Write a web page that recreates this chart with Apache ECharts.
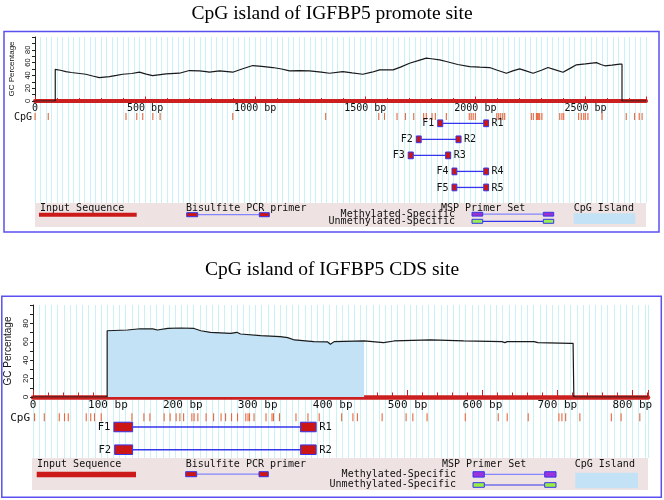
<!DOCTYPE html>
<html><head><meta charset="utf-8">
<script src="https://cdn.jsdelivr.net/npm/echarts@6/dist/echarts.min.js"></script>
<style>html,body{margin:0;padding:0;background:#fff}#c{width:664px;height:500px}</style>
</head><body><div id="c"></div>
<script>
// ================= DATA =================
const promTitle = 'CpG island of IGFBP5 promote site';
const cdsTitle = 'CpG island of IGFBP5 CDS site';

const promLength = 2775;   // bp
const cdsLength = 821;     // bp

const promXTickValues = [0, 500, 1000, 1500, 2000, 2500];
const cdsXTickValues = [0, 100, 200, 300, 400, 500, 600, 700, 800];
const yTickLabels = [0, 20, 40, 60, 80];

// GC percentage (bp, %)
const promGC = [[0,0],[92,0],[92,49.5],[115,48],[140,46],[165,44.5],[194,43.4],[231,41.8],[262,39],[292,36.6],[338,38],[370,40],[398,41.8],[440,43],[474,45],[505,42],[534,39.7],[595,42.3],[656,43.4],[701,47.6],[747,47],[777,46],[792,45],[838,47],[898,45],[940,50],[989,55.4],[1030,54],[1080,52.3],[1120,50],[1156,47],[1200,47.5],[1247,47],[1300,45],[1338,43.4],[1398,46],[1440,44],[1489,41.8],[1530,45],[1565,48.6],[1626,48.6],[1660,53],[1701,59],[1740,63],[1777,66.9],[1800,66],[1838,64.3],[1868,61.7],[1920,57],[1974,53.8],[2020,53],[2065,52.3],[2100,48],[2141,43.4],[2170,47],[2201,50.2],[2230,47],[2262,43.4],[2300,48],[2330,52.3],[2360,49],[2398,45],[2430,51],[2459,56.5],[2500,58],[2550,60],[2570,57],[2588,55],[2620,56],[2656,57.5],[2666,57.5],[2666,0],[2775,0]];

const cdsGC = [[0,0],[99,0],[99,72],[126,72.8],[143,74.2],[160,74],[166,72.8],[180,74.5],[197,75],[215,74.5],[224,72],[237,70.3],[264,69.2],[272,70.3],[277,68.5],[304,66.7],[330,65.6],[340,64.5],[349,62],[375,60.2],[393,60],[397,57.3],[402,60.2],[442,60.9],[468,59.1],[482,60.9],[531,62],[575,60.9],[626,60.2],[630,59.1],[633,60.2],[669,60.2],[674,59.1],[718,58.3],[721,58.3],[722,0],[821,0]];

const cdsIsland = [99, 442];

// CpG site positions (bp)
const promCpG = [0,60,413,462,489,535,568,898,1320,1561,1587,1644,1682,1720,1765,1777,1803,1818,1868,1972,1981,1990,2000,2097,2106,2115,2124,2133,2254,2263,2277,2281,2284,2288,2292,2302,2383,2393,2401,2469,2481,2492,2499,2511,2575,2685,2723,2744,2757];
const cdsCpG = [2,15,35,42,47,71,77,82,91,132,148,156,175,183,191,196,201,212,215,220,231,241,251,257,265,273,284,287,289,295,311,319,321,329,351,367,382,412,427,433,466,498,507,526,577,621,633,661,702,706,711,730,772,785,810];

// Primers: forward/reverse [start, end] in bp, one pair per row
const promPrimerNames = [['F1','R1'],['F2','R2'],['F3','R3'],['F4','R4'],['F5','R5']];
const promPrimerF = [[1829,1852],[1732,1754],[1695,1718],[1894,1916],[1894,1916]];
const promPrimerR = [[2038,2060],[1912,1935],[1865,1888],[2038,2060],[2038,2060]];

const cdsPrimerNames = [['F1','R1'],['F2','R2']];
const cdsPrimerF = [[108,133],[109,133]];
const cdsPrimerR = [[357,378],[357,378]];

// ================= STYLE / LAYOUT =================
const MONO = 'DejaVu Sans Mono';
const SANS = 'Liberation Sans';
const SERIF = 'Liberation Serif';
const RED = '#cc2020';
const BLUE = '#3535ee';
const GRIDC = '#c8f2f6';
const CPGC = '#e8673f';
const ISLAND = '#c4e2f5';
const CPG_ROW = 0.57;

const chart = echarts.init(document.getElementById('c'));

const grids = [], xAxes = [], yAxes = [], series = [];

function addPanel(cfg) {
  const g0 = grids.length;
  grids.push({left: cfg.left, top: cfg.plotTop, width: cfg.width, height: cfg.plotBottom - cfg.plotTop});
  grids.push({left: cfg.left, top: cfg.plotBottom, width: cfg.width, height: cfg.trackBottom - cfg.plotBottom});
  const x0 = xAxes.length;
  // main axis with labels & ticks (the red bar)
  xAxes.push({
    type: 'value', gridIndex: g0, min: 0, max: cfg.len, interval: cfg.labelStep,
    axisLine: {show: true, onZero: false, lineStyle: {color: RED, width: cfg.barW}},
    axisTick: {show: true, inside: true, length: cfg.tickL, lineStyle: {color: RED, width: 1}},
    minorTick: {show: true, splitNumber: cfg.minorSplit, length: cfg.minorL, lineStyle: {color: RED, width: 1}},
    axisLabel: {show: true, margin: cfg.labelMargin, showMaxLabel: false, color: '#111',
      fontFamily: MONO, fontSize: cfg.xFont,
      formatter: v => cfg.xTicks.includes(v) ? (v === 0 ? '0' : v + ' bp') : ''},
    splitLine: {show: false}
  });
  // grid-line axes
  [g0, g0 + 1].forEach(gi => xAxes.push({
    type: 'value', gridIndex: gi, min: 0, max: cfg.len, interval: cfg.gridStep,
    axisLine: {show: false}, axisTick: {show: false}, axisLabel: {show: false},
    splitLine: {show: true, lineStyle: {color: GRIDC, width: 1}}
  }));
  const y0 = yAxes.length;
  yAxes.push({
    type: 'value', gridIndex: g0, min: 0, max: 100, interval: 10,
    name: 'GC Percentage', nameLocation: 'middle', nameRotate: 90, nameGap: cfg.nameGap,
    nameTextStyle: {fontFamily: SANS, fontSize: cfg.nameFont, color: '#111'},
    axisLine: {show: true, lineStyle: {color: '#222', width: 1}},
    axisTick: {show: true, length: 3, lineStyle: {color: '#222'}},
    axisLabel: {show: true, rotate: 90, margin: 3, fontFamily: SANS, fontSize: cfg.yFont, color: '#111',
      formatter: v => yTickLabels.includes(v) ? String(v) : ''},
    splitLine: {show: false}
  });
  yAxes.push({type: 'value', gridIndex: g0 + 1, inverse: true, min: cfg.trackMin, max: cfg.trackMax, show: false});

  if (cfg.island) {
    series.push({
      type: 'line', xAxisIndex: x0, yAxisIndex: y0, symbol: 'none', silent: true,
      data: cfg.gc.filter(p => p[0] >= cfg.island[0] && p[0] <= cfg.island[1] && !(p[0] === cfg.island[0] && p[1] === 0)),
      lineStyle: {width: 0}, areaStyle: {color: ISLAND, opacity: 1}, z: 2
    });
  }
  series.push({
    type: 'line', xAxisIndex: x0, yAxisIndex: y0, symbol: 'none', silent: true,
    data: cfg.gc, lineStyle: {color: '#1a1a1a', width: 1.2}, z: 3
  });
  series.push({
    type: 'custom', xAxisIndex: x0 + 2, yAxisIndex: y0 + 1, silent: true,
    data: cfg.cpg.map(v => [v]),
    renderItem: (params, api) => {
      const p = api.coord([api.value(0), CPG_ROW]);
      return {type: 'rect', shape: {x: p[0] - 0.5, y: p[1] - cfg.cpgH / 2, width: 1.1, height: cfg.cpgH},
        style: {fill: CPGC}};
    }
  });
  series.push({
    type: 'custom', xAxisIndex: x0 + 2, yAxisIndex: y0 + 1, silent: true, z: 5,
    data: cfg.pf.map((f, i) => [f[0], f[1], cfg.pr[i][0], cfg.pr[i][1], i + 1]),
    renderItem: (params, api) => {
      const row = api.value(4);
      const a = api.coord([api.value(0), row]), b = api.coord([api.value(1), row]);
      const c = api.coord([api.value(2), row]), d = api.coord([api.value(3), row]);
      const h = api.size([0, 0.42])[1];
      const nm = cfg.names[params.dataIndex];
      const font = cfg.primerFont + 'px "' + MONO + '"';
      return {type: 'group', children: [
        {type: 'line', shape: {x1: b[0], y1: b[1], x2: c[0], y2: c[1]}, style: {stroke: BLUE, lineWidth: cfg.primerLW}},
        {type: 'rect', shape: {x: a[0], y: a[1] - h / 2, width: b[0] - a[0], height: h}, style: {fill: '#cc1515', stroke: BLUE, lineWidth: 1}},
        {type: 'rect', shape: {x: c[0], y: c[1] - h / 2, width: d[0] - c[0], height: h}, style: {fill: '#cc1515', stroke: BLUE, lineWidth: 1}},
        {type: 'text', style: {text: nm[0], x: a[0] - 3.5, y: a[1] + 0.5, align: 'right', verticalAlign: 'middle', font: font, fill: '#111'}},
        {type: 'text', style: {text: nm[1], x: d[0] + 3, y: d[1] + 0.5, align: 'left', verticalAlign: 'middle', font: font, fill: '#111'}}
      ]};
    }
  });
}

addPanel({left: 35, width: 611, plotTop: 37, plotBottom: 101, trackBottom: 203,
  len: promLength, labelStep: 500, gridStep: 25, minorSplit: 5, tickL: 4.5, minorL: 3, barW: 4,
  labelMargin: 2, xFont: 10, xTicks: promXTickValues, nameGap: 19, nameFont: 8, yFont: 7.5,
  trackMin: -0.39, trackMax: 5.97, gc: promGC, cpg: promCpG, cpgH: 7,
  pf: promPrimerF, pr: promPrimerR, names: promPrimerNames, primerFont: 10, primerLW: 1.3});

addPanel({left: 33, width: 615, plotTop: 305, plotBottom: 397, trackBottom: 458,
  len: cdsLength, labelStep: 100, gridStep: 8.25, minorSplit: 5, tickL: 7, minorL: 4.5, barW: 4.5,
  labelMargin: 3, xFont: 11, xTicks: cdsXTickValues, nameGap: 20, nameFont: 10, yFont: 8,
  trackMin: -0.32, trackMax: 2.365, gc: cdsGC, cpg: cdsCpG, cpgH: 8, island: cdsIsland,
  pf: cdsPrimerF, pr: cdsPrimerR, names: cdsPrimerNames, primerFont: 10.5, primerLW: 1.5});

// ================= GRAPHICS (frames, titles, legends) =================
function txt(t, x, y, opt) {
  return Object.assign({type: 'text', silent: true, z: 10, style: Object.assign({text: t, x: x, y: y,
    font: '10px "' + MONO + '"', fill: '#111', verticalAlign: 'middle', align: 'left'}, opt || {})});
}
function rect(x, y, w, h, fill, stroke, lw) {
  return {type: 'rect', silent: true, z: 10, shape: {x: x, y: y, width: w, height: h},
    style: {fill: fill, stroke: stroke || null, lineWidth: lw || 0}};
}
function line(x1, y1, x2, y2, c, w) {
  return {type: 'line', silent: true, z: 10, shape: {x1: x1, y1: y1, x2: x2, y2: y2}, style: {stroke: c, lineWidth: w}};
}
function primerIcon(x1, x2, y, w1, w2, h, fill, lc) {
  return [line(x1 + w1, y + h / 2, x2, y + h / 2, lc, 1.2),
    rect(x1, y, w1, h, fill, BLUE, 1), rect(x2, y, w2, h, fill, BLUE, 1)];
}

const graphics = [];
// frames
graphics.push({type: 'rect', silent: true, z: 0, shape: {x: 4, y: 31.5, width: 655, height: 200.5},
  style: {fill: null, stroke: '#5a50f0', lineWidth: 1.5}});
graphics.push({type: 'rect', silent: true, z: 0, shape: {x: 1.8, y: 296.2, width: 659.5, height: 201},
  style: {fill: null, stroke: '#5a50f0', lineWidth: 1.5}});
// titles
graphics.push(txt(promTitle, 332, 14, {font: '19.5px "' + SERIF + '"', align: 'center', fill: '#000'}));
graphics.push(txt(cdsTitle, 332, 270, {font: '19.5px "' + SERIF + '"', align: 'center', fill: '#000'}));
// CpG row labels
graphics.push(txt('CpG', 32, 117, {align: 'right'}));
graphics.push(txt('CpG', 30, 418, {align: 'right', font: '11px "' + MONO + '"'}));

// top legend
graphics.push(rect(35, 203, 611, 24, '#eee2e2'));
graphics.push(txt('Input Sequence', 40, 208.5));
graphics.push(rect(39, 212.7, 97.7, 4, '#cc1a1a'));
graphics.push(txt('Bisulfite PCR primer', 186, 208.5));
graphics.push(...primerIcon(186.7, 259.3, 212.7, 11, 10, 4, '#cc1515', '#8585ff'));
graphics.push(txt('MSP Primer Set', 441, 208.5));
graphics.push(txt('Methylated-Specific', 455, 214.5, {align: 'right'}));
graphics.push(txt('Unmethylated-Specific', 455, 221.5, {align: 'right'}));
graphics.push(...primerIcon(472, 543.3, 212.3, 10.7, 10.4, 3.8, '#9933cc', '#8585ff'));
graphics.push(...primerIcon(472, 543.3, 219.3, 10.7, 10.4, 4, '#99ee55', BLUE));
graphics.push(txt('CpG Island', 573.7, 208.5));
graphics.push(rect(573.7, 213.3, 61.6, 10.7, ISLAND));

// bottom legend
graphics.push(rect(32, 458, 616, 32, '#eee2e2'));
graphics.push(txt('Input Sequence', 37, 464.5));
graphics.push(rect(36.7, 471.7, 99.3, 5.6, '#cc1a1a'));
graphics.push(txt('Bisulfite PCR primer', 185.7, 464.5));
graphics.push(...primerIcon(185.7, 259, 471.7, 11, 9.3, 5, '#cc1515', '#8585ff'));
graphics.push(txt('MSP Primer Set', 442, 464.5));
graphics.push(txt('Methylated-Specific', 456, 474, {align: 'right'}));
graphics.push(txt('Unmethylated-Specific', 456, 484.5, {align: 'right'}));
graphics.push(...primerIcon(473, 544.7, 471.7, 11.3, 11.3, 5.4, '#9933dd', '#8585ff'));
graphics.push(...primerIcon(473, 544.7, 482.7, 11.3, 11.3, 4.6, '#99ee44', BLUE));
graphics.push(txt('CpG Island', 574.7, 464.5));
graphics.push(rect(575.3, 472.7, 62.7, 15.6, ISLAND));

chart.setOption({
  backgroundColor: '#ffffff',
  animation: false,
  grid: grids.map(g => Object.assign({outerBoundsMode: 'none', containLabel: false}, g)),
  xAxis: xAxes,
  yAxis: yAxes,
  series: series,
  graphic: graphics
});
</script>
</body></html>
